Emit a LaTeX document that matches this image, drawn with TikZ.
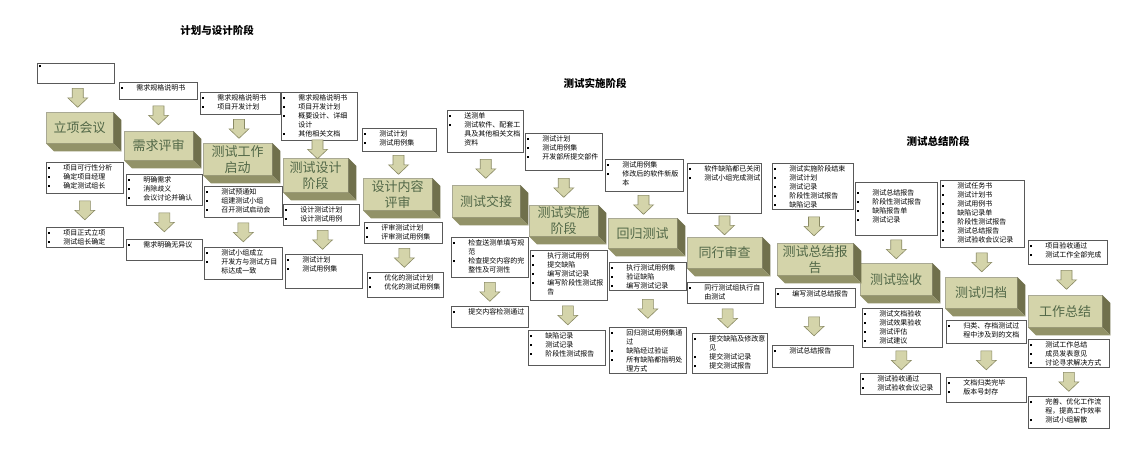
\documentclass[tikz,border=0pt]{standalone}
\usepackage{fontspec}
\setmainfont{Noto Sans CJK SC}
\usetikzlibrary{calc}
\definecolor{khaki}{RGB}{212,212,170}
\definecolor{khakiside}{RGB}{112,112,76}
\definecolor{khakibottom}{RGB}{146,146,104}
\definecolor{blocktext}{RGB}{82,104,72}
\definecolor{arrowline}{RGB}{138,138,100}
\newcommand{\bul}{\par\noindent\makebox[17pt][l]{\hspace{2pt}\rule[1pt]{2pt}{2pt}}}
\newcommand{\cont}{\par\noindent\hspace*{17pt}}
\newcommand{\boxlist}[3]{\parbox[t][#2][t]{#1}{\vspace{2pt}#3}}
\begin{document}
\begin{tikzpicture}[x=1pt, y=-1pt,
  blk/.style={fill=khaki, draw=khakiside!60, text=blocktext, anchor=north west, inner sep=0pt, align=center, font=\fontsize{13}{16}\selectfont},
  ibox/.style={draw=black!65, fill=white, line width=0.6pt, inner sep=0pt, anchor=north west, font=\fontsize{7}{9}\selectfont},
  title/.style={font=\bfseries\fontsize{10.5}{12}\selectfont},
  downarrow/.pic={\draw[fill=khaki, draw=arrowline, line width=0.6pt] (-5.5,-9.5) -- (5.5,-9.5) -- (5.5,0) -- (10,0) -- (0,9.5) -- (-10,0) -- (-5.5,0) -- cycle;}]

\fill[white] (0,0) rectangle (1148,475);
\useasboundingbox (0,0) rectangle (1148,475);

% Phase titles
\node[title] (ph1) at (217,30) {计划与设计阶段};
\node[title] (ph2) at (595,83) {测试实施阶段};
\node[title] (ph3) at (938,141) {测试总结阶段};

% Inputs
\node[ibox] (t1) at (37,63) {\boxlist{77pt}{20pt}{\bul}};
\node[ibox] (t2) at (119,82) {\boxlist{78pt}{17pt}{\bul 需求规格说明书}};
\node[ibox] (t3) at (200,92) {\boxlist{80pt}{22pt}{\bul 需求规格说明书\bul 项目开发计划}};
\node[ibox] (t4) at (281,92) {\boxlist{76pt}{48pt}{\bul 需求规格说明书\bul 项目开发计划\bul 概要设计、详细\cont 设计\bul 其他相关文档}};
\node[ibox] (t5) at (362,128) {\boxlist{74pt}{23pt}{\bul 测试计划\bul 测试用例集}};
\node[ibox] (t6) at (447,110) {\boxlist{76pt}{42pt}{\bul 送测单\bul 测试软件、配套工\cont 具及其他相关文档\cont 资料}};
\node[ibox] (t7) at (525,133) {\boxlist{77pt}{37pt}{\bul 测试计划\bul 测试用例集\bul 开发部所提交部件}};
\node[ibox] (t8) at (605,159) {\boxlist{78pt}{32pt}{\bul 测试用例集\bul 修改后的软件新版\cont 本}};
\node[ibox] (t9) at (687,163) {\boxlist{74pt}{50pt}{\bul 软件缺陷都已关闭\bul 测试小组完成测试}};
\node[ibox] (t10) at (772,163) {\boxlist{81pt}{46pt}{\bul 测试实施阶段结束\bul 测试计划\bul 测试记录\bul 阶段性测试报告\bul 缺陷记录}};
\node[ibox] (t11) at (855,182) {\boxlist{82pt}{53pt}{\vspace{5pt}\bul 测试总结报告\bul 阶段性测试报告\bul 缺陷报告单\bul 测试记录}};
\node[ibox] (t12) at (940,180) {\boxlist{84pt}{67pt}{\bul 测试任务书\bul 测试计划书\bul 测试用例书\bul 缺陷记录单\bul 阶段性测试报告\bul 测试总结报告\bul 测试验收会议记录}};
\node[ibox] (t13) at (1028,240) {\boxlist{79pt}{24pt}{\bul 项目验收通过\bul 测试工作全部完成}};

% Steps
\node[blk, minimum width=67, minimum height=31] (b1) at (46,112) {立项会议};
\node[blk, minimum width=69, minimum height=29] (b2) at (124,131) {需求评审};
\node[blk, minimum width=69, minimum height=32] (b3) at (203,143) {测试工作\\启动};
\node[blk, minimum width=65, minimum height=34] (b4) at (283,158) {测试设计\\阶段};
\node[blk, minimum width=69, minimum height=32] (b5) at (363,178) {设计内容\\评审};
\node[blk, minimum width=68, minimum height=32] (b6) at (452,185) {测试交接};
\node[blk, minimum width=69, minimum height=31] (b7) at (529,205) {测试实施\\阶段};
\node[blk, minimum width=69, minimum height=30] (b8) at (608,218) {回归测试};
\node[blk, minimum width=75, minimum height=31] (b9) at (687,237) {同行审查};
\node[blk, minimum width=76, minimum height=32] (b10) at (777,243) {测试总结报\\告};
\node[blk, minimum width=72, minimum height=32] (b11) at (860,263) {测试验收};
\node[blk, minimum width=72, minimum height=31] (b12) at (945,277) {测试归档};
\node[blk, minimum width=74, minimum height=32] (b13) at (1028,295) {工作总结};

% 3D sides of the steps
\foreach \n in {1,...,13} {
  \fill[khakiside] (b\n.north east) -- ++(8,8) -- ($(b\n.south east)+(8,8)$) -- (b\n.south east) -- cycle;
  \fill[khakibottom] (b\n.south west) -- ($(b\n.south west)+(8,8)$) -- ($(b\n.south east)+(8,8)$) -- (b\n.south east) -- cycle;
}

% Activities
\node[ibox] (m1) at (46,162) {\boxlist{77pt}{31pt}{\bul 项目可行性分析\bul 确定项目经理\bul 确定测试组长}};
\node[ibox] (m2) at (126,174) {\boxlist{76pt}{31pt}{\bul 明确需求\bul 消除歧义\bul 会议讨论并确认}};
\node[ibox] (m3) at (204,186) {\boxlist{78pt}{31pt}{\bul 测试预通知\bul 组建测试小组\bul 召开测试启动会}};
\node[ibox] (m4) at (283,204) {\boxlist{76pt}{21pt}{\bul 设计测试计划\bul 设计测试用例}};
\node[ibox] (m5) at (364,222) {\boxlist{78pt}{21pt}{\bul 评审测试计划\bul 评审测试用例集}};
\node[ibox] (m6) at (451,237) {\boxlist{77pt}{40pt}{\bul 检查送测单填写规\cont 范\bul 检查提交内容的完\cont 整性及可测性}};
\node[ibox] (m7) at (530,250) {\boxlist{77pt}{50pt}{\bul 执行测试用例\bul 提交缺陷\bul 编写测试记录\bul 编写阶段性测试报\cont 告}};
\node[ibox] (m8) at (609,262) {\boxlist{77pt}{28pt}{\bul 执行测试用例集\bul 验证缺陷\bul 编写测试记录}};
\node[ibox] (m9) at (687,282) {\boxlist{76pt}{21pt}{\bul 同行测试组执行自\cont 由测试}};
\node[ibox] (m10) at (775,288) {\boxlist{80pt}{19pt}{\bul 编写测试总结报告}};
\node[ibox] (m11) at (862,308) {\boxlist{80pt}{39pt}{\bul 测试文档验收\bul 测试效果验收\bul 测试评估\bul 测试建议}};
\node[ibox] (m12) at (946,320) {\boxlist{80pt}{23pt}{\bul 归类、存档测试过\cont 程中涉及到的文档}};
\node[ibox] (m13) at (1028,339) {\boxlist{81pt}{28pt}{\bul 测试工作总结\bul 成员发表意见\bul 讨论寻求解决方式}};

% Results
\node[ibox] (e1) at (46,227) {\boxlist{77pt}{20pt}{\bul 项目正式立项\bul 测试组长确定}};
\node[ibox] (e2) at (126,239) {\boxlist{76pt}{21pt}{\bul 需求明确无异议}};
\node[ibox] (e3) at (204,247) {\boxlist{78pt}{32pt}{\bul 测试小组成立\bul 开发方与测试方目\cont 标达成一致}};
\node[ibox] (e4) at (285,254) {\boxlist{77pt}{34pt}{\bul 测试计划\bul 测试用例集}};
\node[ibox] (e5) at (367,272) {\boxlist{76pt}{25pt}{\bul 优化的测试计划\bul 优化的测试用例集}};
\node[ibox] (e6) at (451,306) {\boxlist{77pt}{21pt}{\bul 提交内容检测通过}};
\node[ibox] (e7) at (528,330) {\boxlist{77pt}{35pt}{\bul 缺陷记录\bul 测试记录\bul 阶段性测试报告}};
\node[ibox] (e8) at (609,327) {\boxlist{77pt}{46pt}{\bul 回归测试用例集通\cont 过\bul 缺陷经过验证\bul 所有缺陷都指明处\cont 理方式}};
\node[ibox] (e9) at (692,333) {\boxlist{75pt}{40pt}{\bul 提交缺陷及修改意\cont 见\bul 提交测试记录\bul 提交测试报告}};
\node[ibox] (e10) at (772,345) {\boxlist{81pt}{22pt}{\bul 测试总结报告}};
\node[ibox] (e11) at (860,373) {\boxlist{80pt}{21pt}{\bul 测试验收通过\bul 测试验收会议记录}};
\node[ibox] (e12) at (946,377) {\boxlist{80pt}{25pt}{\bul 文档归类完毕\bul 版本号封存}};
\node[ibox] (e13) at (1028,396) {\boxlist{81pt}{32pt}{\bul 完善、优化工作流\cont 程，提高工作效率\bul 测试小组解散}};

% Block arrows between boxes and steps
\foreach \n in {1,...,13} {
  \pic at ($(t\n.south)!0.5!(b\n.north)$) {downarrow};
  \pic at ($(m\n.south)!0.5!(e\n.north)$) {downarrow};
}

\end{tikzpicture}
\end{document}
